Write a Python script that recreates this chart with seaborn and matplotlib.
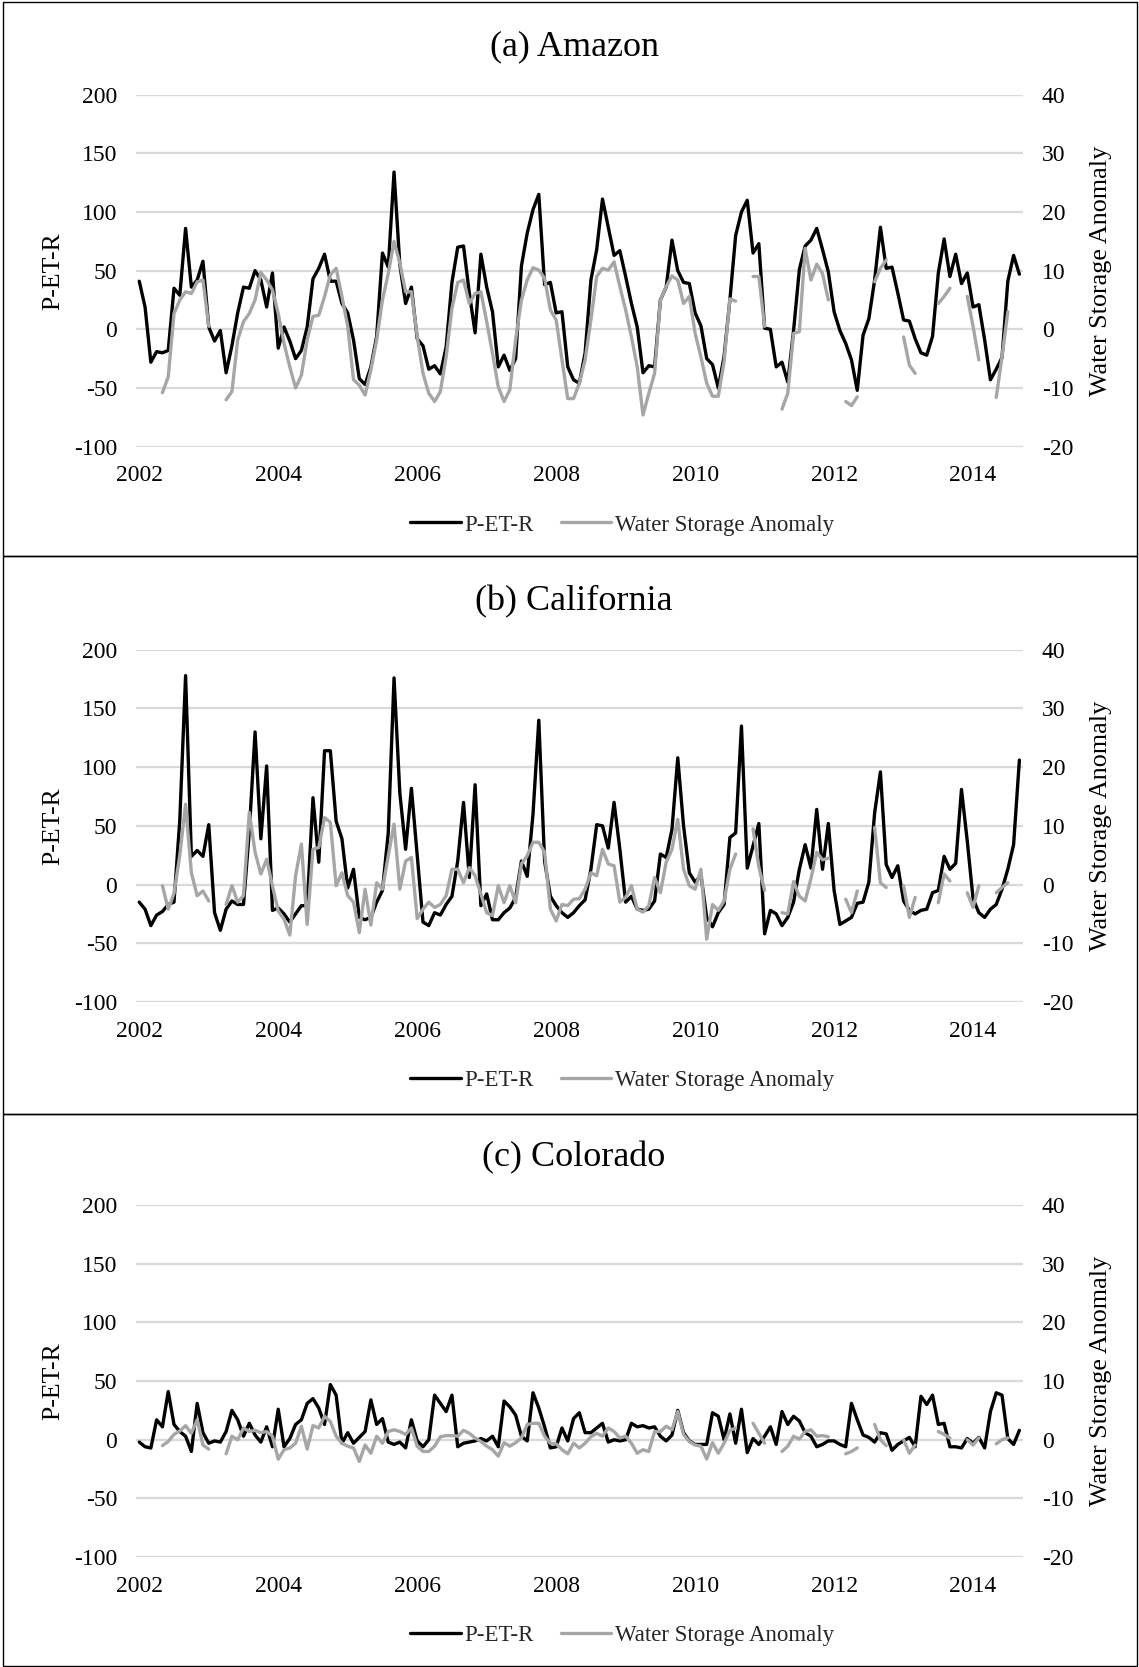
import numpy as np
import pandas as pd
import matplotlib
matplotlib.use("Agg")
import matplotlib.pyplot as plt
import seaborn as sns
from matplotlib.lines import Line2D
from matplotlib.patches import Rectangle

nan = np.nan

# Monthly series, Jan 2002 - Sep 2014 (153 months)
AMAZON_PETR = [
    41, 19, -28, -19, -20, -18, 35, 29, 86, 36,
    42, 58, 2, -10, -1, -37, -14, 14, 36, 35,
    50, 42, 19, 48, -16, 2, -10, -25, -18, 2,
    43, 52, 64, 41, 41, 22, 14, -9, -42, -47,
    -32, -6, 65, 53, 134, 55, 22, 36, -8, -14,
    -34, -31, -38, -15, 40, 70, 71, 31, -3, 64,
    36, 15, -32, -22, -35, -25, 54, 82, 102, 115,
    38, 40, 14, 15, -32, -43, -46, -20, 42, 68,
    111, 87, 63, 67, 45, 22, 2, -37, -31, -32,
    25, 36, 76, 50, 40, 39, 14, 3, -25, -30,
    -50, -23, 25, 80, 100, 110, 65, 73, 1, 0,
    -32, -28, -45, -1, 51, 71, 76, 86, 68, 49,
    15, -1, -12, -26, -52, -5, 9, 42, 87, 52,
    53, 31, 8, 7, -8, -20, -22, -6, 48, 77,
    45, 64, 39, 48, 19, 21, -9, -43, -34, -24,
    41, 63, 47,
]
AMAZON_TWS = [
    nan, nan, nan, nan, -10.8, -8.1, 2.7, 5.0, 6.4, 6.1,
    8.1, 8.4, 0.5, nan, nan, -12.0, -10.6, -1.8, 1.3, 2.7,
    5.0, 9.7, 8.4, 6.7, 2.7, -2.4, -6.4, -10.0, -7.8, -1.8,
    2.2, 2.4, 5.6, 9.3, 10.4, 5.6, 0.5, -8.6, -9.5, -11.2,
    -6.9, -1.8, 5.0, 9.5, 15.0, 11.3, 6.4, 6.4, -1.2, -7.5,
    -10.9, -12.3, -10.6, -4.7, 3.6, 8.0, 8.4, 4.4, 6.1, 6.4,
    1.3, -4.1, -9.8, -12.3, -10.3, -1.8, 5.0, 8.4, 10.5, 10.1,
    8.7, 3.3, 1.6, -5.2, -11.8, -11.8, -9.2, -5.2, 1.6, 9.0,
    10.4, 10.1, 11.5, 7.3, 3.3, -1.3, -6.4, -14.6, -10.9, -7.5,
    5.0, 7.3, 9.1, 8.4, 4.4, 5.6, -0.7, -4.7, -9.2, -11.4,
    -11.4, -5.5, 5.2, 4.8, nan, nan, 9.0, 9.0, 0.5, nan,
    nan, -13.6, -10.9, -0.7, -0.4, 13.8, 8.4, 11.1, 9.5, 5.0,
    nan, nan, -12.3, -13.0, -11.5, nan, nan, 8.1, 10.4, 11.8,
    nan, nan, -1.3, -6.1, -7.5, nan, nan, nan, 4.4, 5.6,
    7.0, nan, nan, 5.6, 0.5, -5.2, nan, nan, -11.6, -4.7,
    3.0, nan, nan,
]

CALIF_PETR = [
    -15, -21, -35, -26, -23, -17, -15, 55, 178, 24,
    29, 24, 51, -24, -39, -21, -14, -17, -17, 45,
    130, 39, 101, -22, -20, -25, -32, -25, -18, -18,
    74, 19, 114, 114, 54, 39, -3, 13, -28, -30,
    -28, -15, -5, 44, 176, 78, 30, 82, 25, -32,
    -35, -24, -26, -17, -10, 20, 70, 6, 85, -18,
    -8, -30, -30, -24, -20, -11, 20, 7, 60, 140,
    20, -10, -18, -24, -28, -24, -18, -13, 13, 51,
    50, 31, 70, 30, -15, -10, -21, -22, -21, -14,
    26, 23, 47, 108, 50, 10, 2, 8, -28, -36,
    -24, -17, 40, 44, 135, 14, 33, 52, -42, -22,
    -25, -35, -28, -15, 13, 34, 14, 64, 13, 52,
    -5, -34, -31, -28, -16, -15, 2, 61, 96, 17,
    6, 16, -14, -22, -25, -22, -21, -7, -5, 24,
    13, 18, 81, 37, -12, -24, -28, -21, -17, -4,
    13, 34, 106,
]
CALIF_TWS = [
    nan, nan, nan, nan, -0.2, -4.2, -1.5, 5.0, 13.7, 2.0,
    -1.9, -1.1, -2.8, nan, nan, -3.4, -0.2, -3.0, -1.9, 12.3,
    5.5, 1.8, 4.3, -0.2, -4.5, -5.9, -8.6, 1.5, 6.9, -6.8,
    6.0, 6.3, 11.4, 10.6, -0.2, 2.0, -1.9, -3.0, -8.2, -0.8,
    -6.9, 0.3, -0.8, 4.9, 10.3, -0.8, 4.0, 4.6, -5.8, -4.2,
    -3.0, -3.9, -3.4, -1.9, 2.6, 2.6, 0.3, 2.9, 1.5, -1.6,
    -4.8, -5.3, -0.2, -3.1, -0.2, -3.1, 3.5, 4.9, 7.2, 7.2,
    5.5, -4.2, -6.2, -3.4, -3.6, -2.5, -2.4, -0.8, 2.0, 1.5,
    6.0, 3.5, 3.2, -3.0, -2.2, -0.2, -4.2, -4.7, -3.6, 1.2,
    -1.4, 3.8, 6.0, 11.1, 2.6, -0.2, -0.8, 2.6, -9.3, -3.4,
    -4.4, -2.8, 2.6, 5.2, nan, nan, 9.5, 3.0, -1.0, nan,
    nan, -4.8, -5.0, 0.5, -2.0, -2.8, 1.0, 5.5, 4.2, 4.5,
    nan, nan, -2.5, -4.8, -1.1, nan, nan, 9.7, 0.3, -0.5,
    nan, nan, -0.2, -5.6, -2.2, nan, nan, nan, -3.1, 1.8,
    0.6, nan, nan, -1.4, -3.9, -0.2, nan, nan, -1.4, -0.5,
    0.3, nan, nan,
]

COLO_PETR = [
    -2, -6, -7, 17, 11, 41, 13, 7, 3, -10,
    31, 6, -3, -1, -2, 7, 25, 17, 3, 14,
    4, -2, 11, -6, 26, -6, 1, 13, 17, 31,
    35, 27, 13, 47, 38, -3, 6, -3, 2, 7,
    34, 13, 18, -2, -4, -2, -7, 17, -1, -6,
    0, 38, 31, 24, 38, -6, -3, -2, -1, 1,
    -1, 3, -6, 33, 28, 21, 3, -1, 40, 27,
    11, -7, -6, 10, -1, 18, 23, 6, 6, 10,
    14, -2, 0, -1, 0, 14, 11, 12, 10, 11,
    3, -1, 4, 25, 6, -1, -4, -4, -4, 23,
    20, 0, 22, -3, 26, -11, 1, -4, 3, 11,
    -4, 24, 13, 20, 16, 6, 3, -6, -4, -1,
    -1, -4, -6, 31, 17, 4, 2, -2, 6, 5,
    -9, -4, -1, 2, -6, 37, 30, 38, 13, 14,
    -6, -6, -7, 1, -3, 2, -7, 24, 40, 38,
    1, -4, 8,
]
COLO_TWS = [
    nan, nan, nan, nan, -1.0, -0.3, 0.9, 1.5, 2.4, 1.1,
    3.4, -0.9, -1.6, nan, nan, -2.4, 0.6, 0.0, 2.0, 1.4,
    1.6, 1.2, 1.4, 0.6, -3.3, -1.7, -1.4, -0.6, 2.3, -1.6,
    2.4, 2.0, 4.0, 3.1, 0.6, -0.6, -1.1, -1.4, -3.7, -0.9,
    -2.3, 0.6, -0.6, 1.4, 1.7, 1.4, 0.9, 2.0, -1.1, -2.0,
    -2.0, -1.1, 0.5, 0.7, 0.7, 0.6, 1.6, 1.1, 0.3, -0.3,
    -1.1, -1.7, -2.8, -0.5, -1.1, -0.5, 0.3, 2.6, 2.8, 2.8,
    0.6, -0.6, -0.7, -1.7, -2.4, -0.6, -1.4, -0.6, 0.5, 1.1,
    0.6, 2.0, 1.4, 0.3, 0.6, -0.6, -2.3, -1.7, -2.0, 1.4,
    1.4, 2.3, 1.7, 4.8, 0.9, -0.3, -0.9, -1.1, -3.3, -0.5,
    -2.3, -0.6, 1.6, 2.0, nan, nan, 2.8, 1.1, -0.6, nan,
    nan, -2.0, -1.1, 0.6, 0.1, 1.4, 1.7, 0.6, 0.7, 0.5,
    nan, nan, -2.4, -2.0, -1.4, nan, nan, 2.6, 0.0, -1.0,
    nan, nan, 0.0, -2.3, -0.9, nan, nan, nan, 1.4, 0.9,
    0.3, nan, nan, 0.0, -0.9, 0.3, nan, nan, -0.7, 0.0,
    0.3, nan, nan,
]

TITLES = ["(a) Amazon", "(b) California", "(c) Colorado"]
SERIES_NAMES = ["P-ET-R", "Water Storage Anomaly"]
LEFT_TICKS = [-100, -50, 0, 50, 100, 150, 200]
RIGHT_TICKS = [-20, -10, 0, 10, 20, 30, 40]
YEAR_TICKS = [2002, 2004, 2006, 2008, 2010, 2012, 2014]

sns.set_theme(style="white")
plt.rcParams["font.family"] = ["Liberation Serif", "DejaVu Serif"]
plt.rcParams["axes.unicode_minus"] = False

W, H = 1139, 1667
fig = plt.figure(figsize=(W / 100, H / 100), dpi=100)

months = pd.date_range("2002-01-01", periods=len(AMAZON_PETR), freq="MS")
year_frac = months.year + (months.month - 1) / 12.0

BLACK = "#000000"
GREY = "#a6a6a6"
GRID = "#d9d9d9"
STEP = 555.2  # vertical distance between panels, px

panels = [
    (TITLES[0], AMAZON_PETR, AMAZON_TWS),
    (TITLES[1], CALIF_PETR, CALIF_TWS),
    (TITLES[2], COLO_PETR, COLO_TWS),
]

for i, (title, petr, tws) in enumerate(panels):
    off = i * STEP
    top, bot = 94.6 + off, 446.7 + off
    ax = fig.add_axes([136 / W, 1 - bot / H, 887 / W, (bot - top) / H])
    ax2 = ax.twinx()

    for v in LEFT_TICKS:
        ax.axhline(v, color=GRID, lw=1.6, zorder=0)

    df_p = pd.DataFrame({"year": year_frac, "value": petr})
    sns.lineplot(data=df_p, x="year", y="value", ax=ax, color=BLACK,
                 lw=2.4, legend=False)

    df_t = pd.DataFrame({"year": year_frac, "value": tws})
    df_t["run"] = df_t["value"].isna().cumsum()
    df_t = df_t.dropna()
    sns.lineplot(data=df_t, x="year", y="value", units="run", estimator=None,
                 ax=ax2, color=GREY, lw=2.4, legend=False)

    x0, x1 = 2002 - 0.047, 2002 + 152 / 12 + 0.052
    for a in (ax, ax2):
        a.set_xlim(x0, x1)
        for s in a.spines.values():
            s.set_visible(False)
        a.set_xlabel("")
        a.grid(False)
    ax.set_ylim(-100, 200)
    ax2.set_ylim(-20, 40)
    ax.set_yticks(LEFT_TICKS)
    ax.set_yticklabels([str(t) for t in LEFT_TICKS])
    ax2.set_yticks(RIGHT_TICKS)
    ax2.set_yticklabels([str(t) for t in RIGHT_TICKS])
    ax.set_xticks(YEAR_TICKS)
    ax.set_xticklabels([str(t) for t in YEAR_TICKS])

    ax.tick_params(axis="y", length=0, labelsize=17, pad=13.5, colors="black")
    ax.tick_params(axis="x", length=0, labelsize=17, pad=13.5, colors="black")
    ax2.tick_params(axis="y", length=0, labelsize=17, pad=13.5, colors="black")

    ax.set_ylabel(SERIES_NAMES[0], fontsize=18.5, color="black")
    ax.yaxis.label.set_verticalalignment("center")
    ax.yaxis.set_label_coords(-0.0936, 0.5)
    ax2.set_ylabel(SERIES_NAMES[1], fontsize=18.8, color="black")
    ax2.yaxis.label.set_verticalalignment("center")
    ax2.yaxis.set_label_coords(1.088, 0.5)

    fig.text(574 / W, 1 - (47 + off) / H, title, ha="center", va="center",
             fontsize=26, color="black")

    handles = [Line2D([], [], color=BLACK, lw=2.4),
               Line2D([], [], color=GREY, lw=2.4)]
    fig.legend(handles, SERIES_NAMES, loc="center",
               bbox_to_anchor=(622 / W, 1 - (525 + off) / H), ncol=2,
               frameon=False, fontsize=16.5, handlelength=2.2,
               handletextpad=0.15, columnspacing=1.2)

# panel frames
edges = [2, 556, 1113.5, 1666]
for j in range(3):
    y_top, y_bot = edges[j], edges[j + 1]
    fig.patches.append(Rectangle((3 / W, 1 - y_bot / H), (1137 - 3) / W,
                                 (y_bot - y_top) / H, transform=fig.transFigure,
                                 fill=False, edgecolor="black", lw=1.0))

fig.savefig("out.png", dpi=100)
